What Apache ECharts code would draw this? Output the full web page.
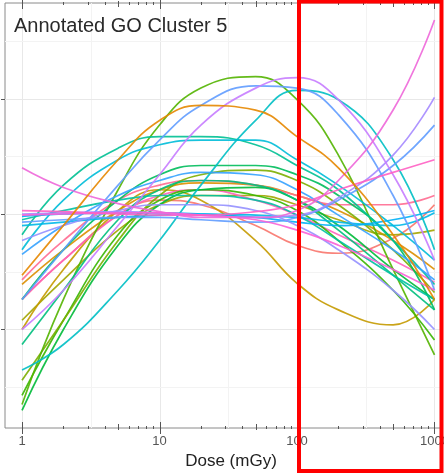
<!DOCTYPE html>
<html><head><meta charset="utf-8">
<script src="https://cdn.jsdelivr.net/npm/echarts@6/dist/echarts.min.js"></script>
<style>html,body{margin:0;padding:0;background:#fff}#c{width:444px;height:476px}</style>
</head><body><div id="c"></div>
<script>
// ---- data ----
const doses = [1, 2, 5, 10, 20, 50, 100, 200, 500, 1000];
const xTickLabels = [1, 10, 100, 1000];
const xMinorGrid = [3.162, 31.62, 316.2];
const xLogTicks = [2,3,4,5,6,7,8,9,20,30,40,50,60,70,80,90,200,300,400,500,600,700,800,900];
const yMajor = [-1, 0, 1];
const yMinor = [-1.5, -0.5, 0.5, 1.5];

const g01 = [0.40, 0.23, 0.09, 0.02, -0.03, -0.03, 0.03, 0.29, 0.90, 1.68];
const g02 = [-1.65, -0.74, 0.21, 0.77, 1.09, 1.19, 0.99, 0.51, -0.48, -1.22];
const g03 = [-1.00, -0.66, -0.10, 0.34, 0.77, 1.09, 1.18, 0.99, 0.34, -0.40];
const g04 = [-0.74, -0.31, 0.25, 0.64, 0.94, 1.11, 1.09, 0.86, 0.16, -0.66];
const g05 = [-1.35, -1.13, -0.66, -0.23, 0.25, 0.81, 1.07, 0.99, 0.47, -0.31];
const g06 = [-0.53, -0.10, 0.47, 0.81, 0.94, 0.90, 0.67, 0.40, -0.18, -0.74];
const g07 = [-0.18, 0.25, 0.57, 0.67, 0.67, 0.60, 0.42, 0.21, -0.23, -0.61];
const g08 = [-1.00, -0.48, 0.03, 0.21, 0.12, -0.23, -0.60, -0.83, -0.96, -0.74];
const g09 = [-0.02, 0.00, 0.01, 0.01, 0.00, -0.03, -0.07, -0.10, -0.05, 0.03];
const g10 = [0.00, 0.01, 0.02, 0.01, -0.01, -0.03, -0.01, 0.14, 0.51, 1.01];
const g11 = [-0.07, -0.05, -0.03, -0.03, -0.05, -0.07, -0.03, 0.12, 0.42, 0.77];
const g12 = [0.03, 0.02, 0.00, -0.01, -0.01, 0.02, 0.08, 0.21, 0.36, 0.47];
const g13 = [-0.01, 0.00, 0.01, 0.01, -0.01, -0.05, -0.14, -0.27, -0.48, -0.66];
const g14 = [-0.10, -0.07, -0.03, -0.01, 0.00, -0.01, -0.03, -0.07, -0.10, 0.01];
const g15 = [-1.70, -1.00, -0.27, 0.08, 0.21, 0.23, 0.12, -0.10, -0.48, -0.74];
const g16 = [-1.44, -0.92, -0.23, 0.16, 0.34, 0.38, 0.29, 0.08, -0.31, -0.68];
const g17 = [-0.74, -0.40, -0.01, 0.12, 0.08, -0.10, -0.27, -0.34, -0.21, 0.08];
const g18 = [-1.13, -0.66, -0.05, 0.21, 0.29, 0.25, 0.12, -0.14, -0.53, -0.83];
const g19 = [-0.31, 0.12, 0.47, 0.60, 0.64, 0.64, 0.47, 0.25, -0.10, -0.40];
const g20 = [-0.92, -0.57, -0.14, 0.08, 0.16, 0.16, 0.08, -0.05, -0.18, -0.14];
const g21 = [-0.61, -0.31, 0.03, 0.21, 0.27, 0.25, 0.16, 0.03, -0.23, -0.48];
const g22 = [-0.74, -0.40, -0.01, 0.16, 0.21, 0.12, -0.01, -0.18, -0.40, -0.59];
const g23 = [-0.35, -0.10, 0.16, 0.29, 0.36, 0.34, 0.21, -0.01, -0.31, -0.57];
const g24 = [-1.57, -0.92, -0.18, 0.12, 0.21, 0.16, 0.03, -0.23, -0.66, -1.09];
const g25 = [-0.05, 0.03, 0.12, 0.16, 0.16, 0.12, -0.01, -0.23, -0.53, -0.74];
const g26 = [-0.57, -0.23, 0.12, 0.25, 0.29, 0.25, 0.16, 0.08, 0.08, 0.16];
const g27 = [-0.23, -0.10, 0.03, 0.08, 0.08, 0.03, -0.10, -0.31, -0.66, -1.00];
const g28 = [-0.74, -0.31, 0.12, 0.34, 0.42, 0.42, 0.34, 0.16, -0.23, -0.83];

const curves = [g17,g21,g20,g08,g26,g22,g24,g15,g16,g02,g28,g18,g07,g25,g19,g05,g14,g09,g23,g04,g11,g27,g10,g03,g13,g12,g01,g06];
const palette = ['#F8766D','#DB8E00','#A3A500','#C49A00','#FF6C91','#FF62BC','#39B600','#00BA38','#7CAE00','#53B400','#00BD5C','#00BF7D','#00C094','#00C1A3','#00BCD8','#00BFC4','#00B8E7','#00B0F6','#35A2FF','#619CFF','#619CFF','#9590FF','#A58AFF','#C77CFF','#FB61D7','#FF61C3','#EE67D9','#E58700'];

// ---- chart ----
const chart = echarts.init(document.getElementById('c'), null, {renderer: 'canvas'});
const FONT = 'Liberation Sans, Arial, sans-serif';

function crisp(v) { return Math.round(v) + 0.5; }

function renderGrid(params, api) {
  const cs = params.coordSys;
  const ch = [];
  xMinorGrid.forEach(v => {
    const x = crisp(api.coord([v, 0])[0]);
    ch.push({type: 'line', shape: {x1: x, y1: cs.y, x2: x, y2: cs.y + cs.height}, style: {stroke: '#f3f3f3', lineWidth: 1}});
  });
  xTickLabels.forEach(v => {
    const x = crisp(api.coord([v, 0])[0]);
    ch.push({type: 'line', shape: {x1: x, y1: cs.y, x2: x, y2: cs.y + cs.height}, style: {stroke: '#e8e8e8', lineWidth: 1}});
  });
  yMinor.forEach(v => {
    const y = crisp(api.coord([1, v])[1]);
    ch.push({type: 'line', shape: {x1: cs.x, y1: y, x2: cs.x + cs.width, y2: y}, style: {stroke: '#f3f3f3', lineWidth: 1}});
  });
  yMajor.forEach(v => {
    const y = crisp(api.coord([1, v])[1]);
    ch.push({type: 'line', shape: {x1: cs.x, y1: y, x2: cs.x + cs.width, y2: y}, style: {stroke: '#e8e8e8', lineWidth: 1}});
  });
  return {type: 'group', children: ch};
}

function renderTicks(params, api) {
  const cs = params.coordSys;
  const ch = [];
  const bottom = cs.y + cs.height, top = cs.y;
  const addX = (v, a, b) => {
    const x = crisp(api.coord([v, 0])[0]);
    ch.push({type: 'line', shape: {x1: x, y1: bottom - a, x2: x, y2: bottom + b}, style: {stroke: '#555', lineWidth: 1}});
    ch.push({type: 'line', shape: {x1: x, y1: top - b, x2: x, y2: top + a}, style: {stroke: '#555', lineWidth: 1}});
  };
  xTickLabels.forEach(v => addX(v, 6, 6));
  xLogTicks.forEach(v => {
    const m = String(v)[0] === '5';
    addX(v, m ? 4 : 2, m ? 2 : 1);
  });
  yMajor.forEach(v => {
    const y = crisp(api.coord([1, v])[1]);
    ch.push({type: 'line', shape: {x1: cs.x - 4, y1: y, x2: cs.x, y2: y}, style: {stroke: '#555', lineWidth: 1}});
  });
  return {type: 'group', children: ch};
}

const series = [
  {type: 'custom', renderItem: renderGrid, data: [[1, 0]], silent: true, z: 0},
];
curves.forEach((c, i) => {
  series.push({
    type: 'line',
    data: doses.map((d, j) => [d, c[j]]),
    smooth: 0.45,
    showSymbol: false,
    symbol: 'none',
    silent: true,
    lineStyle: {color: palette[i], width: 1.7, opacity: 0.9},
    z: 2
  });
});
series.push({type: 'custom', renderItem: renderTicks, data: [[1, 0]], silent: true, clip: false, z: 5});

chart.setOption({
  animation: false,
  backgroundColor: '#fff',
  title: {
    text: 'Annotated GO Cluster 5',
    left: 14, top: 16,
    padding: 0,
    textStyle: {fontFamily: FONT, fontSize: 20, fontWeight: 'normal', color: '#2a2a2a'}
  },
  grid: {left: 5, right: 2, top: 3, bottom: 48, show: true, borderColor: '#8a8a8a', borderWidth: 1,
         backgroundColor: 'transparent', outerBoundsMode: 'none', containLabel: false},
  xAxis: {
    type: 'log', logBase: 10, min: 0.752, max: 1134,
    axisLine: {show: false}, axisTick: {show: false}, splitLine: {show: false}, minorTick: {show: false},
    axisLabel: {customValues: xTickLabels, formatter: v => String(v), color: '#555', fontFamily: FONT, fontSize: 13, margin: 7, hideOverlap: false},
    name: 'Dose (mGy)', nameLocation: 'middle', nameGap: 23,
    nameTextStyle: {fontFamily: FONT, fontSize: 17, color: '#222', padding: [0, 0, 0, 15]}
  },
  yAxis: {
    type: 'value', min: -1.853, max: 1.827,
    axisLine: {show: false}, axisTick: {show: false}, splitLine: {show: false}, axisLabel: {show: false}
  },
  graphic: [{
    type: 'rect', z: 100,
    shape: {x: 299, y: 1.5, width: 142.5, height: 469.5},
    style: {fill: 'none', stroke: '#ff0000', lineWidth: 4}
  }],
  series: series
});
</script>
</body></html>
